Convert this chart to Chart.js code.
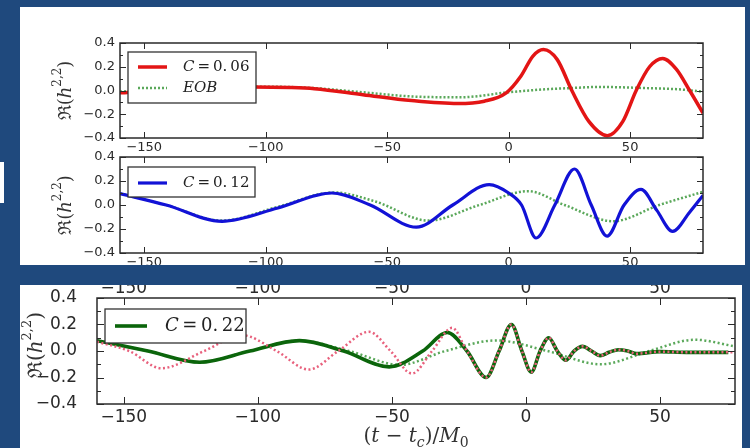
<!DOCTYPE html>
<html>
<head>
<meta charset="utf-8">
<script src="https://cdn.jsdelivr.net/npm/chart.js@4.4.0/dist/chart.umd.min.js"></script>
<style>
html, body { margin: 0; padding: 0; }
body { width: 750px; height: 448px; background: #1f497d; position: relative; overflow: hidden; }
.panel { position: absolute; background: #fff; overflow: hidden; }
.panel canvas { position: absolute; left: 0; }
#mark { position: absolute; left: 0; top: 162px; width: 4px; height: 41px; background: #fff; }
</style>
</head>
<body>
<div id="mark"></div>
<div class="panel" style="left:20px;top:7px;width:725px;height:258px">
  <canvas id="c1" width="725" height="150" style="top:0"></canvas>
  <canvas id="c2" width="725" height="135" style="top:133px"></canvas>
</div>
<div class="panel" style="left:20px;top:285px;width:722px;height:163px">
  <canvas id="c3" width="722" height="163" style="top:0"></canvas>
</div>
<script>
const xTicks = [-150, -100, -50, 0, 50];
const yTicks = [-0.4, -0.2, 0, 0.2, 0.4];
const yMinor = [-0.3, -0.1, 0.1, 0.3];

// top plot: C = 0.06 against EOB
const t06 = [-160, -130, -105, -90, -80, -60, -40, -21, -10, -1, 5, 10, 14.3, 20, 26, 33, 40.6, 47, 52.5, 58, 63.4, 69, 74.5, 80];
const h06 = [-0.02, 0.02, 0.03, 0.025, 0.015, -0.035, -0.085, -0.11, -0.09, -0.02, 0.12, 0.29, 0.345, 0.26, 0, -0.26, -0.38, -0.26, 0, 0.2, 0.27, 0.18, 0, -0.19];
const tEob1 = [-160, -140, -120, -100, -80, -60, -40, -20, 0, 15, 25, 37, 57, 70, 80];
const hEob1 = [-0.01, 0.015, 0.03, 0.032, 0.02, -0.015, -0.05, -0.057, -0.015, 0.01, 0.02, 0.03, 0.02, 0.01, -0.01];

// middle plot: C = 0.12
const t12 = [-160, -141, -118, -95, -72.8, -57, -38, -23, -8, 0, 5.3, 11.3, 19, 27.1, 34, 40.5, 47.5, 54.5, 61, 67.5, 74.5, 80];
const h12 = [0.095, 0, -0.136, -0.025, 0.10, 0, -0.185, 0, 0.17, 0.1, 0, -0.275, 0, 0.30, 0, -0.26, 0, 0.13, -0.045, -0.22, -0.06, 0.08];
const tEob2 = [-160, -141, -118, -95, -72, -55, -33, -12, 8, 23, 43, 62, 80];
const hEob2 = [0.095, 0, -0.13, -0.015, 0.105, 0.03, -0.13, 0, 0.115, 0, -0.135, 0, 0.11];

// bottom plot: C = 0.22, red dotted and EOB
const t22 = [-160, -141, -121.7, -103, -84.5, -68, -51, -38.5, -29.3, -22, -14.8, -10, -5.4, -1.5, 2, 5.3, 8.5, 11.7, 14.9, 18, 21.1, 24.5, 27.7, 31, 34.5, 38, 41.3, 50, 60, 75.5];
const h22 = [0.078, 0, -0.085, 0, 0.078, 0, -0.12, 0, 0.14, 0, -0.20, 0, 0.20, 0, -0.16, 0, 0.10, 0, -0.07, 0, 0.035, 0, -0.035, -0.01, 0.01, 0, -0.02, -0.005, -0.01, -0.01];
const tRed3 = [-160, -148, -136, -120, -106, -93, -81, -70, -58.5, -50.5, -42.5, -35, -27.5, -22, -14.8, -10, -5.4, -1.5, 2, 5.3, 8.5, 11.7, 14.9, 18, 21.1, 24.5, 27.7, 31, 34.5, 38, 41.3, 50, 60, 78];
const hRed3 = [0.07, 0, -0.13, 0, 0.12, 0, -0.14, 0, 0.145, 0, -0.17, 0, 0.175, 0, -0.20, 0, 0.20, 0, -0.16, 0, 0.10, 0, -0.07, 0, 0.035, 0, -0.035, -0.01, 0.01, 0, -0.02, -0.005, -0.01, -0.01];
const tEob3 = [-160, -141, -122, -103, -85, -66, -47, -30, -11, 8, 28, 46, 63, 78];
const hEob3 = [0.075, 0, -0.085, 0, 0.078, 0, -0.105, 0, 0.08, 0, -0.10, 0, 0.085, 0.035];

const SANS = '"DejaVu Sans", sans-serif';
const SERIF = '"DejaVu Serif", serif';
const pts = (t, h) => t.map((v, i) => ({x: v, y: h[i]}));
const fmtX = v => v < 0 ? '\u2212' + Math.abs(v) : String(v);
const fmtY = v => (v < -1e-9 ? '\u2212' : '') + Math.abs(v).toFixed(1);

function drawRich(ctx, parts, x, y) {
  let w = 0;
  for (const p of parts) { ctx.font = p.font; w += ctx.measureText(p.t).width; }
  let cx = x - w / 2;
  for (const p of parts) {
    ctx.font = p.font;
    ctx.fillText(p.t, cx, y + (p.dy || 0));
    cx += ctx.measureText(p.t).width;
  }
}

function ylabelParts(s) {
  const sup = Math.round(s * 0.65);
  return [
    {t: '\u211c(', font: s + 'px ' + SERIF},
    {t: 'h', font: 'italic ' + s + 'px ' + SERIF},
    {t: '2,2', font: sup + 'px ' + SERIF, dy: -s * 0.45},
    {t: ')', font: s + 'px ' + SERIF}
  ];
}

function legendParts(s, val) {
  return [
    {t: 'C', font: 'italic ' + s + 'px ' + SERIF},
    {t: '\u2009=\u2009', font: s + 'px ' + SERIF},
    {t: val, font: s + 'px ' + SERIF}
  ];
}

const framePlugin = {
  id: 'frame',
  afterDraw(chart, args, o) {
    const {ctx, chartArea: a, scales} = chart;
    const x = scales.x, y = scales.y;
    ctx.save();
    ctx.strokeStyle = '#2a2a2a';
    ctx.lineWidth = 1;
    ctx.beginPath();
    for (const v of xTicks) {
      const p = Math.round(x.getPixelForValue(v)) + 0.5;
      ctx.moveTo(p, a.bottom); ctx.lineTo(p, a.bottom - o.major);
      ctx.moveTo(p, a.top); ctx.lineTo(p, a.top + o.major);
    }
    const yt = (v, len) => {
      const p = Math.round(y.getPixelForValue(v)) + 0.5;
      ctx.moveTo(a.left, p); ctx.lineTo(a.left + len, p);
      ctx.moveTo(a.right, p); ctx.lineTo(a.right - len, p);
    };
    yTicks.forEach(v => yt(v, o.major));
    yMinor.forEach(v => yt(v, o.minor));
    ctx.stroke();
    ctx.lineWidth = 1.5;
    ctx.strokeRect(a.left, a.top, a.width, a.height);

    // tick labels of the axis above (cut off by the panel edge)
    if (o.topLabels) {
      ctx.fillStyle = '#2a2a2a';
      ctx.font = o.topLabels.size + 'px ' + SANS;
      ctx.textAlign = 'center';
      ctx.textBaseline = 'alphabetic';
      for (const v of xTicks) ctx.fillText(fmtX(v), x.getPixelForValue(v), a.top - o.topLabels.gap);
    }

    // legend box
    const L = o.legend;
    const bx = a.left + L.x, by = a.top + L.y;
    ctx.fillStyle = '#fff';
    ctx.fillRect(bx, by, L.w, L.h);
    ctx.strokeStyle = '#333';
    ctx.lineWidth = 1.3;
    ctx.strokeRect(bx, by, L.w, L.h);
    ctx.textBaseline = 'middle';
    ctx.textAlign = 'left';
    L.items.forEach((it, i) => {
      const ry = by + L.rows[i];
      ctx.beginPath();
      ctx.strokeStyle = it.color;
      ctx.lineWidth = it.width;
      ctx.setLineDash(it.dash || []);
      ctx.moveTo(bx + L.s0, ry); ctx.lineTo(bx + L.s1, ry);
      ctx.stroke();
      ctx.setLineDash([]);
      ctx.fillStyle = '#222';
      let cx = bx + L.tx;
      for (const p of it.parts) {
        ctx.font = p.font;
        ctx.fillText(p.t, cx, ry);
        cx += ctx.measureText(p.t).width;
      }
    });

    // y axis title
    ctx.fillStyle = '#333';
    ctx.textAlign = 'left';
    ctx.textBaseline = 'middle';
    ctx.translate(a.left + o.yLabelDx, (a.top + a.bottom) / 2 + (o.yLabelDy || 0));
    ctx.rotate(-Math.PI / 2);
    drawRich(ctx, ylabelParts(o.yLabelSize), 0, 0);
    ctx.setTransform(1, 0, 0, 1, 0, 0);

    if (o.xTitle) {
      const s = o.xTitle.size, sub = Math.round(s * 0.7);
      ctx.fillStyle = '#333';
      drawRich(ctx, [
        {t: '(', font: s + 'px ' + SERIF},
        {t: 't', font: 'italic ' + s + 'px ' + SERIF},
        {t: ' \u2212 ', font: s + 'px ' + SERIF},
        {t: 't', font: 'italic ' + s + 'px ' + SERIF},
        {t: 'c', font: 'italic ' + sub + 'px ' + SERIF, dy: s * 0.3},
        {t: ')/', font: s + 'px ' + SERIF},
        {t: 'M', font: 'italic ' + s + 'px ' + SERIF},
        {t: '0', font: sub + 'px ' + SERIF, dy: s * 0.3}
      ], (a.left + a.right) / 2, o.xTitle.y);
    }
    ctx.restore();
  }
};

function makeChart(id, cfg) {
  const scales = {
    x: {
      type: 'linear', min: cfg.xMin, max: cfg.xMax,
      afterBuildTicks: s => { s.ticks = xTicks.map(v => ({value: v})); },
      afterFit: s => { s.height = cfg.xH; },
      grid: {display: false, drawTicks: false}, border: {display: false},
      ticks: {font: {family: SANS, size: cfg.tick}, color: '#2a2a2a', padding: cfg.xPad,
              maxRotation: 0, autoSkip: false, callback: v => fmtX(v)}
    },
    y: {
      type: 'linear', min: -0.4, max: 0.4,
      afterBuildTicks: s => { s.ticks = yTicks.map(v => ({value: v})); },
      afterFit: s => { s.width = cfg.yW; s.paddingTop = 0; s.paddingBottom = 0; },
      grid: {display: false, drawTicks: false}, border: {display: false},
      ticks: {font: {family: SANS, size: cfg.tick}, color: '#2a2a2a', padding: cfg.yPad,
              autoSkip: false, callback: v => fmtY(v)}
    }
  };
  return new Chart(document.getElementById(id), {
    type: 'line',
    data: {datasets: cfg.datasets},
    options: {
      responsive: false, animation: false, devicePixelRatio: 1,
      layout: {padding: cfg.pad},
      elements: {point: {radius: 0}, line: {cubicInterpolationMode: 'monotone', fill: false}},
      scales: scales,
      plugins: {legend: {display: false}, tooltip: {enabled: false}, frame: cfg.frame}
    },
    plugins: [framePlugin]
  });
}

const RED = '#e31515', BLUE = '#1212d6', DKGREEN = '#0b650b', EOBGREEN = '#5aa85a', PINK = '#e8607c';

makeChart('c1', {
  xMin: -160, xMax: 80, xH: 19, yW: 100, tick: 13, xPad: 2, yPad: 5,
  pad: {left: 0, top: 36, right: 42, bottom: 0},
  datasets: [
    {data: pts(t06, h06), borderColor: RED, borderWidth: 3.5, order: 0},
    {data: pts(tEob1, hEob1), borderColor: EOBGREEN, borderWidth: 2.5, borderDash: [2, 2], order: 1}
  ],
  frame: {
    major: 6, minor: 3, yLabelDx: -54, yLabelSize: 18,
    legend: {x: 8, y: 9, w: 128, h: 51, s0: 10, s1: 39, tx: 55, rows: [15, 36],
      items: [
        {color: RED, width: 3.5, parts: legendParts(15, '0.\u200906')},
        {color: EOBGREEN, width: 2.5, dash: [2, 2], parts: [{t: 'EOB', font: 'italic 15px ' + SERIF}]}
      ]}
  }
});

makeChart('c2', {
  xMin: -160, xMax: 80, xH: 19, yW: 100, tick: 13, xPad: 2, yPad: 5,
  pad: {left: 0, top: 17, right: 42, bottom: 3},
  datasets: [
    {data: pts(t12, h12), borderColor: BLUE, borderWidth: 3.2, order: 0},
    {data: pts(tEob2, hEob2), borderColor: EOBGREEN, borderWidth: 2.5, borderDash: [2, 2], order: 1}
  ],
  frame: {
    major: 6, minor: 3, yLabelDx: -54, yLabelSize: 18,
    legend: {x: 8, y: 10, w: 127, h: 30, s0: 10, s1: 39, tx: 55, rows: [16],
      items: [{color: BLUE, width: 3.2, parts: legendParts(15, '0.\u200912')}]}
  }
});

makeChart('c3', {
  xMin: -160, xMax: 78, xH: 44, yW: 77, tick: 17, xPad: 3, yPad: 20,
  pad: {left: 0, top: 13, right: 7, bottom: 0},
  datasets: [
    {data: pts(tRed3, hRed3), borderColor: PINK, borderWidth: 2.5, borderDash: [2, 2.5], order: 0},
    {data: pts(t22, h22), borderColor: DKGREEN, borderWidth: 3.6, order: 1},
    {data: pts(tEob3, hEob3), borderColor: EOBGREEN, borderWidth: 2.5, borderDash: [2, 2.5], order: 2}
  ],
  frame: {
    major: 7, minor: 4, yLabelDx: -60, yLabelDy: -6, yLabelSize: 20,
    topLabels: {size: 17, gap: 5},
    xTitle: {size: 20, y: 152},
    legend: {x: 8, y: 11, w: 141, h: 34, s0: 10, s1: 42, tx: 60, rows: [17],
      items: [{color: DKGREEN, width: 3.6, parts: legendParts(18, '0.\u200922')}]}
  }
});
</script>
</body>
</html>
